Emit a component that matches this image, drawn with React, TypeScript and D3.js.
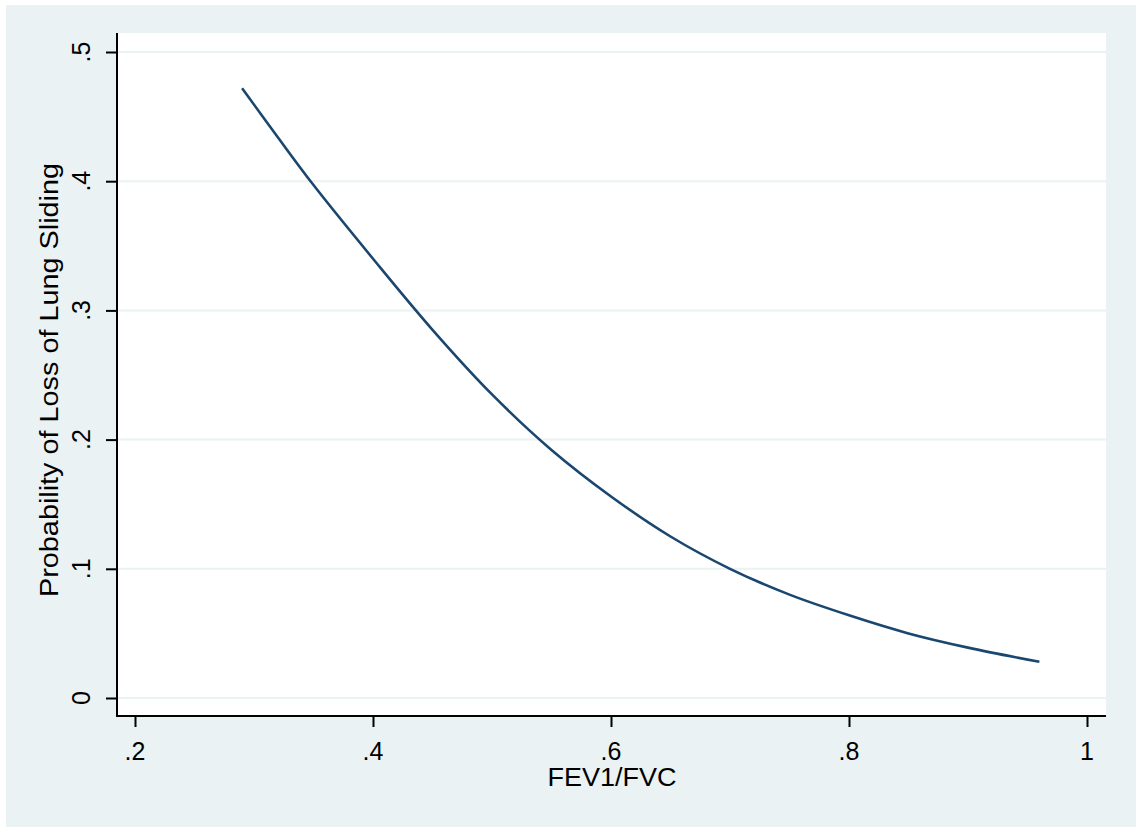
import { useEffect, useRef } from 'react'
import * as d3 from 'd3'

// values
const fevRatio = [0.29, 0.32, 0.35, 0.40, 0.45, 0.50, 0.55, 0.60, 0.65, 0.70, 0.75, 0.80, 0.85, 0.90, 0.96]
const probLoss = [0.472, 0.434, 0.397, 0.340, 0.285, 0.235, 0.192, 0.156, 0.125, 0.100, 0.080, 0.064, 0.050, 0.039, 0.028]

const xTicks = [0.2, 0.4, 0.6, 0.8, 1]
const yTicks = [0, 0.1, 0.2, 0.3, 0.4, 0.5]

const xTitle = 'FEV1/FVC'
const yTitle = 'Probability of Loss of Lung Sliding'

const fmt = (d: number) => (d === 0 ? '0' : d === 1 ? '1' : d.toString().replace(/^0/, ''))

export default function App() {
  const svgRef = useRef<SVGSVGElement>(null)
  const width = 1136
  const height = 827

  useEffect(() => {
    if (!svgRef.current) return
    const svg = d3.select(svgRef.current)
    svg.selectAll('*').remove()

    const plot = { left: 117, right: 1106, top: 33, bottom: 716 }
    const bg = '#eaf2f3'
    const font = "'Liberation Sans', Arial, sans-serif"

    // outer background
    svg.append('rect')
      .attr('x', 6).attr('y', 5)
      .attr('width', width - 6).attr('height', height - 5)
      .attr('fill', bg)

    svg.append('rect')
      .attr('x', plot.left).attr('y', plot.top)
      .attr('width', plot.right - plot.left).attr('height', plot.bottom - plot.top)
      .attr('fill', '#ffffff')

    const x = d3.scaleLinear().domain([0.2, 1]).range([135, 1087])
    const y = d3.scaleLinear().domain([0, 0.5]).range([698, 52])

    // gridlines
    svg.append('g')
      .selectAll('line')
      .data(yTicks)
      .enter()
      .append('line')
      .attr('x1', plot.left).attr('x2', plot.right)
      .attr('y1', d => y(d)).attr('y2', d => y(d))
      .attr('stroke', bg)
      .attr('stroke-width', 2)

    // curve
    const data = fevRatio.map((v, i) => ({ x: v, y: probLoss[i] }))
    const line = d3.line<{ x: number; y: number }>()
      .x(d => x(d.x))
      .y(d => y(d.y))
      .curve(d3.curveCatmullRom.alpha(0.5))

    svg.append('path')
      .datum(data)
      .attr('d', line)
      .attr('fill', 'none')
      .attr('stroke', '#1a476f')
      .attr('stroke-width', 2.6)

    // axes
    const yAxis = svg.append('g')
      .attr('transform', `translate(${plot.left},0)`)
      .call(d3.axisLeft(y).tickValues(yTicks).tickSize(11).tickPadding(0).tickFormat(() => ''))
    yAxis.select('.domain').remove()
    yAxis.selectAll('.tick line').attr('stroke', '#000').attr('stroke-width', 2)

    const xAxis = svg.append('g')
      .attr('transform', `translate(0,${plot.bottom})`)
      .call(d3.axisBottom(x).tickValues(xTicks).tickSize(11).tickFormat(() => ''))
    xAxis.select('.domain').remove()
    xAxis.selectAll('.tick line').attr('stroke', '#000').attr('stroke-width', 2)

    svg.append('path')
      .attr('d', `M${plot.left},${plot.top}V${plot.bottom}H${plot.right}`)
      .attr('fill', 'none')
      .attr('stroke', '#000')
      .attr('stroke-width', 2)

    // tick labels
    svg.append('g')
      .selectAll('text')
      .data(xTicks)
      .enter()
      .append('text')
      .attr('x', d => x(d))
      .attr('y', 760)
      .attr('text-anchor', 'middle')
      .attr('font-family', font)
      .attr('font-size', 25)
      .attr('fill', '#000')
      .text(d => fmt(d))

    svg.append('g')
      .selectAll('text')
      .data(yTicks)
      .enter()
      .append('text')
      .attr('transform', d => `translate(90,${y(d)}) rotate(-90)`)
      .attr('text-anchor', 'middle')
      .attr('font-family', font)
      .attr('font-size', 25)
      .attr('fill', '#000')
      .text(d => fmt(d))

    // titles
    svg.append('text')
      .attr('x', 612)
      .attr('y', 786)
      .attr('text-anchor', 'middle')
      .attr('font-family', font)
      .attr('font-size', 25)
      .attr('fill', '#000')
      .attr('textLength', 129)
      .attr('lengthAdjust', 'spacingAndGlyphs')
      .text(xTitle)

    svg.append('text')
      .attr('transform', `translate(58,380) rotate(-90)`)
      .attr('text-anchor', 'middle')
      .attr('font-family', font)
      .attr('font-size', 26)
      .attr('fill', '#000')
      .attr('textLength', 434)
      .attr('lengthAdjust', 'spacingAndGlyphs')
      .text(yTitle)
  }, [])

  return (
    <svg
      ref={svgRef}
      width={width}
      height={height}
      style={{ position: 'absolute', left: 0, top: 0, display: 'block', background: '#ffffff' }}
    />
  )
}
